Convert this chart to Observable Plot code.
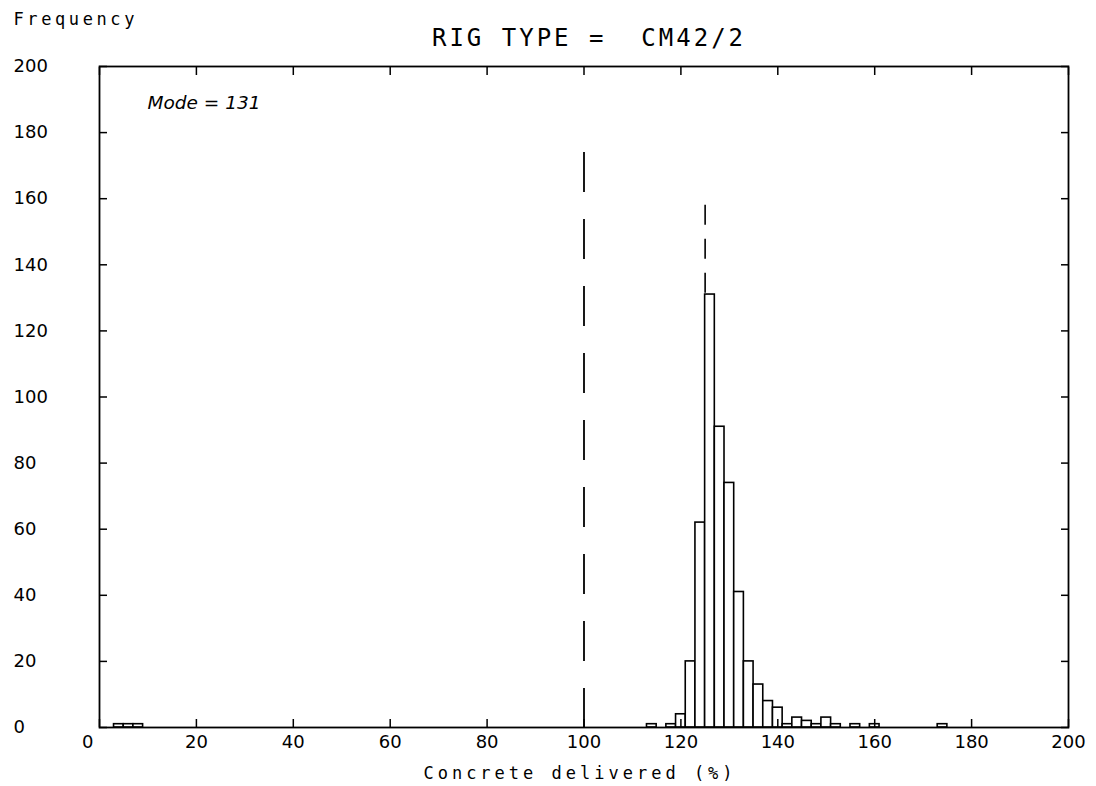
<!DOCTYPE html>
<html>
<head>
<meta charset="utf-8">
<script src="https://cdn.jsdelivr.net/npm/d3@7"></script>
<script src="https://cdn.jsdelivr.net/npm/@observablehq/plot@0.6"></script>
<style>
  html, body { margin: 0; padding: 0; background: white; }
  #chart svg { display: block; }
</style>
</head>
<body>
<div id="chart"></div>
<script>
// ---- data ----
const binCenters = [4, 6, 8, 114, 118, 120, 122, 124, 126, 128, 130, 132, 134, 136, 138, 140, 142, 144, 146, 148, 150, 152, 156, 160, 174];
const counts     = [1, 1, 1,   1,   1,   4,  20,  62, 131,  91,  74,  41,  20,  13,   8,   6,   1,   3,   2,   1,   3,   1,   1,   1,   1];
const binWidth = 2;
const xTicks = [0, 20, 40, 60, 80, 100, 120, 140, 160, 180, 200];
const yTicks = [0, 20, 40, 60, 80, 100, 120, 140, 160, 180, 200];
const refLineX = [100];
const refLineTop = [174];
const modeLineX = [125];
const modeLineTop = [158];
const titleText = "RIG TYPE =  CM42/2";
const yLabelText = "Frequency";
const xLabelText = "Concrete delivered (%)";
const modeText = "Mode = 131";

const bins = binCenters.map((c, i) => ({x1: c - binWidth / 2, x2: c + binWidth / 2, count: counts[i]}));

const W = 1096, H = 786;
const mono = "DejaVu Sans Mono";

const chart = Plot.plot({
  width: W,
  height: H,
  marginLeft: 99,
  marginRight: 28,
  marginTop: 66,
  marginBottom: 59,
  style: {fontSize: "18px", fontFamily: "DejaVu Sans", background: "white", color: "black"},
  x: {domain: [0, 200], label: null},
  y: {domain: [0, 200], label: null},
  marks: [
    // dashed reference lines
    Plot.ruleX(refLineX, {x: d => d, y1: (d, i) => refLineTop[i], y2: 0, stroke: "black", strokeWidth: 1.8, strokeDasharray: "40,27"}),
    Plot.ruleX(modeLineX, {x: d => d, y1: (d, i) => modeLineTop[i], y2: 0, stroke: "black", strokeWidth: 1.6, strokeDasharray: "20,14"}),
    // histogram bars
    Plot.rectY(bins, {x1: "x1", x2: "x2", y: "count", fill: "white", stroke: "black", strokeWidth: 1.6}),
    // frame
    Plot.frame({stroke: "black", strokeWidth: 1.8}),
    // inward tick marks on all four sides
    Plot.axisX({anchor: "bottom", ticks: xTicks, tickSize: 8, dy: -8, tickFormat: () => "", strokeWidth: 1.5, label: null}),
    Plot.axisX({anchor: "top", ticks: xTicks, tickSize: 8, dy: 8, tickFormat: () => "", strokeWidth: 1.5, label: null}),
    Plot.axisY({anchor: "left", ticks: yTicks, tickSize: 8, dx: 8, tickFormat: () => "", strokeWidth: 1.5, label: null}),
    Plot.axisY({anchor: "right", ticks: yTicks, tickSize: 8, dx: -8, tickFormat: () => "", strokeWidth: 1.5, label: null}),
    // tick labels
    Plot.axisX({anchor: "bottom", ticks: xTicks.filter(d => d !== 0), tickSize: 0, tickPadding: 0, dy: 15, lineAnchor: "middle", label: null}),
    Plot.axisX({anchor: "bottom", ticks: xTicks.filter(d => d === 0), tickSize: 0, tickPadding: 0, dy: 15, dx: -6, textAnchor: "end", lineAnchor: "middle", label: null}),
    Plot.axisY({anchor: "left", ticks: yTicks, tickSize: 0, tickPadding: 0, dx: -86, textAnchor: "start", lineAnchor: "middle", label: null}),
    // texts
    Plot.text([modeText], {frameAnchor: "top-left", text: d => d, dx: 48, dy: 37, textAnchor: "start", lineAnchor: "middle", fontSize: 18.5, fontStyle: "italic", fontFamily: "DejaVu Sans"}),
    Plot.text([titleText], {frameAnchor: "top", text: d => d, dx: 5, dy: -28, lineAnchor: "middle", fontSize: 24, fontFamily: mono}),
    Plot.text([yLabelText], {frameAnchor: "top-left", text: d => d, dx: -86, dy: -47, textAnchor: "start", lineAnchor: "middle", fontSize: 17, fontFamily: mono}),
    Plot.text([xLabelText], {frameAnchor: "bottom", text: d => d, dx: -4, dy: 46, lineAnchor: "middle", fontSize: 17, fontFamily: mono})
  ]
});

document.getElementById("chart").appendChild(chart);
const spacing = new Map([[titleText, "3px"], [yLabelText, "3.6px"], [xLabelText, "4px"]]);
d3.select(chart).selectAll("text").each(function () {
  const s = spacing.get(this.textContent);
  if (s) {
    this.setAttribute("letter-spacing", s);
    this.style.letterSpacing = s;
    this.style.whiteSpace = "pre";
  }
});
</script>
</body>
</html>
